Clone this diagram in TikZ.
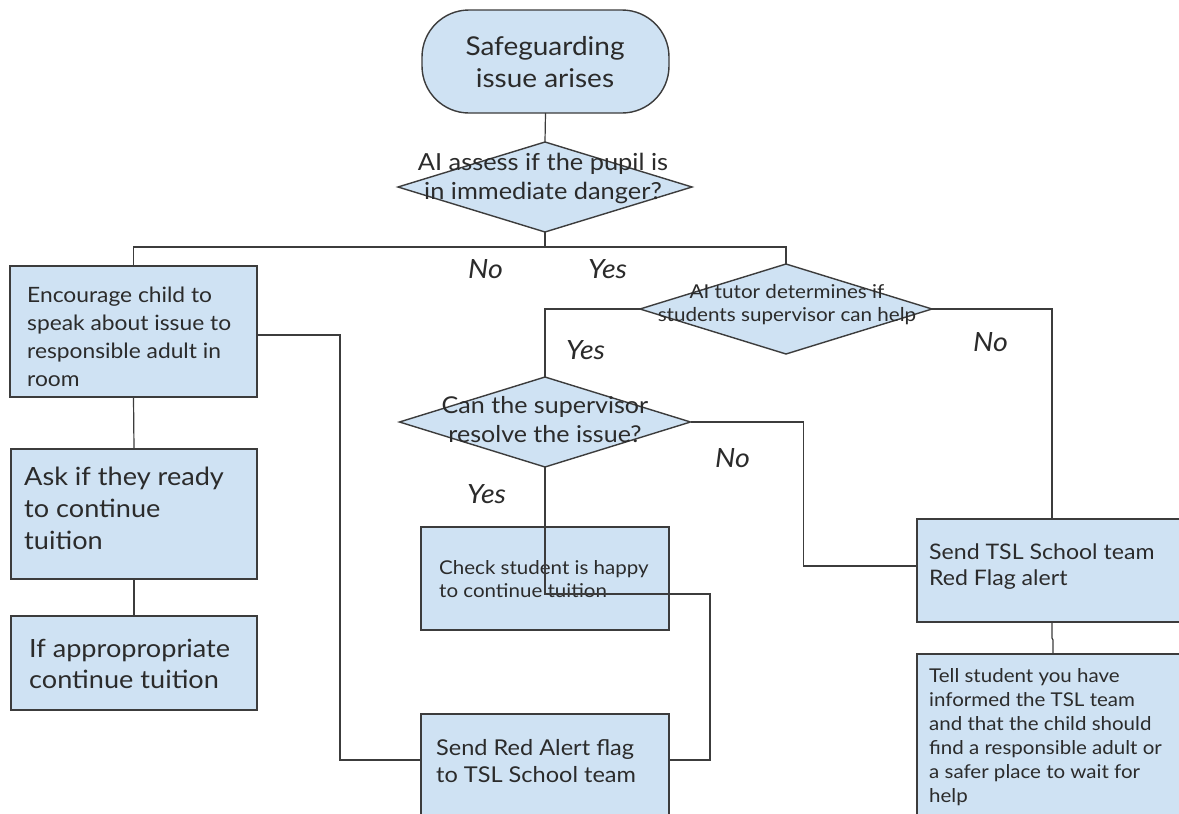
\documentclass[tikz,border=0pt]{standalone}
\usepackage{fontspec}
\setmainfont{Lato}[FakeStretch=1.08]
\usetikzlibrary{shapes.geometric,calc}
\definecolor{fillblue}{HTML}{CFE2F3}
\definecolor{edge}{HTML}{3C3C3C}
\definecolor{ink}{HTML}{2B2B2B}
\newcommand\fsz[2]{\fontsize{#1pt}{#2pt}\selectfont}
\begin{document}
\begin{tikzpicture}[x=1pt,y=-1pt,
  shapebox/.style={draw=edge, line width=1.4pt, fill=fillblue, inner sep=0pt, outer sep=0pt},
  rectbox/.style={shapebox, rectangle, anchor=north west},
  decision/.style={shapebox, diamond},
  txt/.style={inner sep=0pt, text=ink},
  lbl/.style={inner sep=0pt, text=ink, font=\fsz{26.5}{30}\itshape, anchor=base west},
  conn/.style={draw=edge, line width=1.2pt}]
\useasboundingbox (0,0) rectangle (1179,814);
\clip (0,0) rectangle (1179,814);
\fill[white] (0,0) rectangle (1179,814);

% shapes
\node[shapebox, rectangle, rounded corners=47pt, minimum width=247pt, minimum height=103pt, anchor=north west] (st) at (422,10) {};
\node[decision, minimum width=294pt, minimum height=90pt] (d1) at (545,187) {};
\node[decision, minimum width=292pt, minimum height=90pt] (d2) at (786,309) {};
\node[decision, minimum width=291pt, minimum height=90pt] (d3) at (545,422) {};
\node[rectbox, minimum width=247pt, minimum height=131pt] (b1) at (10,266) {};
\node[rectbox, minimum width=246pt, minimum height=130pt] (b2) at (11,449) {};
\node[rectbox, minimum width=246pt, minimum height=94pt] (b3) at (11,616) {};
\node[rectbox, minimum width=248pt, minimum height=103pt] (b4) at (421,527) {};
\node[rectbox, minimum width=248pt, minimum height=110pt] (b5) at (421,714) {};
\node[rectbox, minimum width=270pt, minimum height=103pt] (b7) at (917,519) {};
\node[rectbox, minimum width=272pt, minimum height=170pt] (b8) at (917,654) {};

% texts
\node[txt, anchor=north, align=center, font=\fsz{25.9}{32}] (tst) at (545,36.1) {Safeguarding\\issue arises};
\node[txt, anchor=north, align=center, font=\fsz{23.5}{29}] (td1) at (543,152.8) {AI assess if the pupil is\\in immediate danger?};
\node[txt, anchor=north, align=center, font=\fsz{19.1}{23}] (td2) at (787,284) {AI tutor determines if\\students supervisor can help};
\node[txt, anchor=north, align=center, font=\fsz{23.2}{29}] (td3) at (545,396) {Can the supervisor\\resolve the issue?};
\node[txt, anchor=north west, align=left, font=\fsz{21.1}{28}] (tb1) at (27,286.6) {Encourage child to\\speak about issue to\\responsible adult in\\room};
\node[txt, anchor=north west, align=left, font=\fsz{25.1}{32}] (tb2) at (24,466.7) {Ask if they ready\\to continue\\tuition};
\node[txt, anchor=north west, align=left, font=\fsz{25.1}{31}] (tb3) at (29,638.7) {If appropropriate\\continue tuition};
\node[txt, anchor=north west, align=left, font=\fsz{19}{23.5}] (tb4) at (439,560.1) {Check student is happy\\to continue tuition};
\node[txt, anchor=north west, align=left, font=\fsz{21.8}{27}] (tb5) at (436,739.1) {Send Red Alert flag\\to TSL School team};
\node[txt, anchor=north west, align=left, font=\fsz{21.4}{26}] (tb7) at (929,543.4) {Send TSL School team\\Red Flag alert};
\node[txt, anchor=north west, align=left, font=\fsz{19}{24}] (tb8) at (929,668.1) {Tell student you have\\informed the TSL team\\and that the child should\\find a responsible adult or\\a safer place to wait for\\help};

% labels
\node[lbl] (l1) at (468,278) {No};
\node[lbl] (l2) at (588,278) {Yes};
\node[lbl] (l3) at (566,359) {Yes};
\node[lbl] (l4) at (973,351) {No};
\node[lbl] (l5) at (715,467) {No};
\node[lbl] (l6) at (467,503) {Yes};

% connectors
\draw[conn] (st.south) -- (d1.north);
\draw[conn] (d1.south) -- ++(0,15) coordinate (j1);
\draw[conn] (b1.north) |- (j1) -| (d2.north);
\draw[conn] (d2.west) -| (d3.north);
\draw[conn] (d2.east) -| (b7.north);
\draw[conn] (d3.east) -- ++(113,0) |- ([yshift=4.5pt]b7.west);
\draw[conn] (d3.south) -- ++(0,127) -- ++(165,0) |- ([yshift=-46pt]b5.north east);
\draw[conn] ([yshift=-3.5pt]b1.east) -- ++(83,0) |- ([yshift=-46pt]b5.north west);
\draw[conn] (b1.south) -- (b2.north);
\draw[conn] (b2.south) -- (b3.north);
\draw[conn] (b7.south) -- ++(0,16) -- ++(1,2) -- (b8.north);
\end{tikzpicture}
\end{document}
